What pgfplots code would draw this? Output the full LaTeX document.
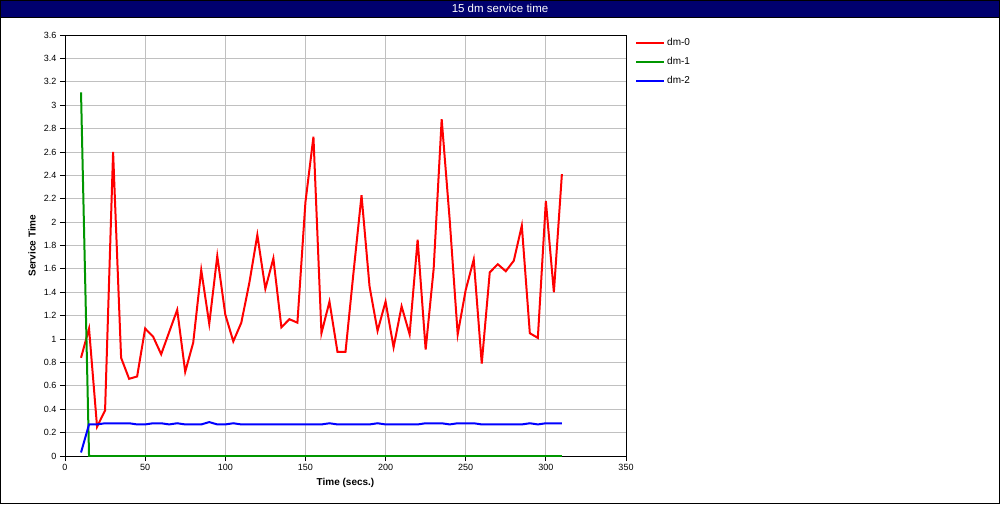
\documentclass[border=0pt]{standalone}
\usepackage{pgfplots}
\pgfplotsset{compat=1.18}
\usepackage{fontspec}
\setmainfont{Liberation Sans}
\definecolor{titlebar}{RGB}{0,0,110}
\definecolor{gridgray}{RGB}{192,192,192}
\definecolor{dmred}{RGB}{255,0,0}
\definecolor{dmgreen}{RGB}{0,150,0}
\definecolor{dmblue}{RGB}{0,0,255}
\begin{document}
\begin{tikzpicture}[x=1pt,y=1pt]
\useasboundingbox (0,0) rectangle (1000,504);
\fill[white] (0,0) rectangle (1000,504);
\fill[titlebar] (0,487) rectangle (1000,504);
\node[text=white,font=\fontsize{11.5}{12}\selectfont] at (500,495.5) {15 dm service time};
\begin{axis}[
  at={(65pt,48pt)}, anchor=south west,
  scale only axis, width=561pt, height=421pt,
  xmin=0, xmax=350, ymin=0, ymax=3.6,
  xtick={0,50,...,350},
  ytick={0,0.2,...,3.6},
  yticklabels={0,0.2,0.4,0.6,0.8,1,1.2,1.4,1.6,1.8,2,2.2,2.4,2.6,2.8,3,3.2,3.4,3.6},
  grid=major,
  major grid style={gridgray, line width=0.8pt},
  axis line style={black, line width=1pt},
  tick style={black, line width=0.8pt},
  tick align=outside, major tick length=5pt,
  xtick pos=bottom, ytick pos=left,
  tick label style={font=\fontsize{9}{10}\selectfont},
  /pgf/number format/assume math mode=true,
  xlabel={\textbf{Time (secs.)}},
  ylabel={\textbf{Service Time}},
  label style={font=\fontsize{10}{12}\selectfont},
  xlabel style={at={(axis description cs:0.5,0)}, anchor=center, yshift=-27pt},
  ylabel style={at={(axis description cs:0,0.5)}, anchor=center, yshift=33pt},
  legend style={at={(1,1)}, anchor=north west, xshift=6pt, yshift=1pt, draw=none, fill=none,
    font=\fontsize{10}{12}\selectfont, row sep=6.5pt},
  legend cell align=left,
  legend image code/.code={\draw[#1] (0pt,0pt) -- (28pt,0pt);},
]
\addplot[dmred, line width=2pt] coordinates {
(10,0.84) (15,1.09) (20,0.25) (25,0.39) (30,2.60) (35,0.84) (40,0.66) (45,0.68)
(50,1.09) (55,1.02) (60,0.87) (65,1.06) (70,1.25) (75,0.72) (80,0.97) (85,1.59)
(90,1.13) (95,1.71) (100,1.21) (105,0.98) (110,1.14) (115,1.48) (120,1.89) (125,1.43)
(130,1.69) (135,1.10) (140,1.17) (145,1.14) (150,2.17) (155,2.73) (160,1.05) (165,1.32)
(170,0.89) (175,0.89) (180,1.57) (185,2.23) (190,1.45) (195,1.07) (200,1.32) (205,0.93)
(210,1.28) (215,1.04) (220,1.85) (225,0.91) (230,1.60) (235,2.88) (240,2.02) (245,1.04)
(250,1.42) (255,1.68) (260,0.79) (265,1.57) (270,1.64) (275,1.58) (280,1.67) (285,1.97)
(290,1.05) (295,1.01) (300,2.18) (305,1.40) (310,2.41)
};
\addlegendentry{dm-0}
\addplot[dmgreen, line width=2pt] coordinates {
(10,3.11) (15,0) (50,0) (100,0) (150,0) (200,0) (250,0) (300,0) (310,0)
};
\addlegendentry{dm-1}
\addplot[dmblue, line width=2pt] coordinates {
(10,0.03) (15,0.27) (20,0.27) (25,0.28) (30,0.28) (35,0.28) (40,0.28) (45,0.27)
(50,0.27) (55,0.28) (60,0.28) (65,0.27) (70,0.28) (75,0.27) (80,0.27) (85,0.27)
(90,0.29) (95,0.27) (100,0.27) (105,0.28) (110,0.27) (115,0.27) (120,0.27) (125,0.27)
(130,0.27) (135,0.27) (140,0.27) (145,0.27) (150,0.27) (155,0.27) (160,0.27) (165,0.28)
(170,0.27) (175,0.27) (180,0.27) (185,0.27) (190,0.27) (195,0.28) (200,0.27) (205,0.27)
(210,0.27) (215,0.27) (220,0.27) (225,0.28) (230,0.28) (235,0.28) (240,0.27) (245,0.28)
(250,0.28) (255,0.28) (260,0.27) (265,0.27) (270,0.27) (275,0.27) (280,0.27) (285,0.27)
(290,0.28) (295,0.27) (300,0.28) (305,0.28) (310,0.28)
};
\addlegendentry{dm-2}
\end{axis}
\draw[black, line width=1pt] (0.5,0.5) rectangle (999.5,503.5);
\draw[black, line width=0.8pt] (0,487) -- (1000,487);
\end{tikzpicture}
\end{document}
